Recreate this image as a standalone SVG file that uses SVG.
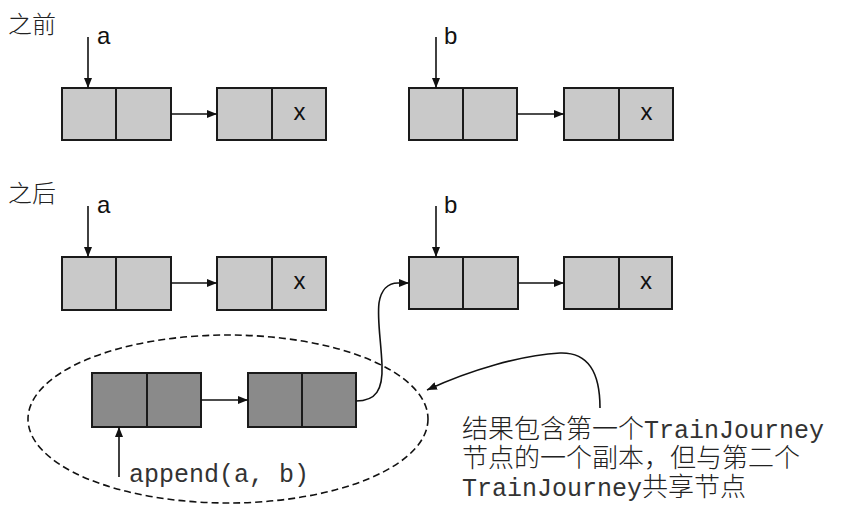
<svg xmlns="http://www.w3.org/2000/svg" width="844" height="510" viewBox="0 0 844 510">
<defs>
<marker id="ah" viewBox="0 0 10 8" refX="10" refY="4" markerWidth="10" markerHeight="8" markerUnits="userSpaceOnUse" orient="auto">
<path d="M0,0 L10,4 L0,8 Z" fill="#111"/>
</marker>
</defs>
<style>
.light{fill:#c9c9c9;stroke:#1a1a1a;stroke-width:2}
.dark{fill:#8a8a8a;stroke:#1a1a1a;stroke-width:2}
.div{stroke:#1a1a1a;stroke-width:2}
.conn{fill:none;stroke:#111;stroke-width:1.6}
.lbl{font-family:"Liberation Sans",Arial,sans-serif;font-size:24px;fill:#111}
.cjk{font-family:"Noto Sans CJK SC",sans-serif;font-size:24px;fill:#222;font-weight:300}
.note{font-family:"Liberation Mono","Noto Sans CJK SC",monospace;font-size:25px;fill:#333}
.notecjk{font-family:"Noto Sans CJK SC",sans-serif;font-weight:300;font-size:26px;fill:#222}
.ell{fill:none;stroke:#111;stroke-width:1.6;stroke-dasharray:7,4}
</style>
<text class="cjk" x="8" y="33">之前</text>
<text class="cjk" x="8" y="202">之后</text>
<g id="before-a1"><rect class="light" x="62" y="88" width="109" height="52"/><line class="div" x1="116" y1="88" x2="116" y2="140"/></g>
<g id="before-a2"><rect class="light" x="217" y="88" width="109" height="52"/><line class="div" x1="272" y1="88" x2="272" y2="140"/><text class="lbl" x="299.5" y="120" text-anchor="middle">x</text></g>
<g id="before-b1"><rect class="light" x="409" y="88" width="108" height="52"/><line class="div" x1="463" y1="88" x2="463" y2="140"/></g>
<g id="before-b2"><rect class="light" x="564" y="88" width="109" height="52"/><line class="div" x1="619" y1="88" x2="619" y2="140"/><text class="lbl" x="646.5" y="120" text-anchor="middle">x</text></g>
<g id="after-a1"><rect class="light" x="62" y="257" width="109" height="53"/><line class="div" x1="116" y1="257" x2="116" y2="310"/></g>
<g id="after-a2"><rect class="light" x="217" y="257" width="109" height="53"/><line class="div" x1="272" y1="257" x2="272" y2="310"/><text class="lbl" x="299.5" y="289" text-anchor="middle">x</text></g>
<g id="after-b1"><rect class="light" x="409" y="257" width="109" height="52"/><line class="div" x1="463" y1="257" x2="463" y2="309"/></g>
<g id="after-b2"><rect class="light" x="564" y="257" width="108" height="52"/><line class="div" x1="619" y1="257" x2="619" y2="309"/><text class="lbl" x="646" y="289" text-anchor="middle">x</text></g>
<g id="copy1"><rect class="dark" x="92" y="373" width="109" height="54"/><line class="div" x1="147" y1="373" x2="147" y2="427"/></g>
<g id="copy2"><rect class="dark" x="248" y="373" width="108" height="54"/><line class="div" x1="302" y1="373" x2="302" y2="427"/></g>
<g id="result-ellipse"><ellipse class="ell" cx="228" cy="419" rx="200" ry="84"/></g>
<g id="labels">
<text class="lbl" x="97" y="44">a</text>
<text class="lbl" x="444" y="44">b</text>
<text class="lbl" x="97" y="213">a</text>
<text class="lbl" x="444" y="213">b</text>
<text class="note" x="129" y="482">append(a, b)</text>
</g>
<g id="note">
<text class="note" x="462" y="438"><tspan class="notecjk">结果包含第一个</tspan>TrainJourney<tspan class="notecjk" x="462" y="467">节点的一个副本，但与第二个</tspan><tspan x="462" y="496">TrainJourney</tspan><tspan class="notecjk">共享节点</tspan></text>
</g>
<g id="connectors">
<line class="conn" x1="88" y1="37" x2="88" y2="88" marker-end="url(#ah)"/>
<line class="conn" x1="436" y1="37" x2="436" y2="88" marker-end="url(#ah)"/>
<line class="conn" x1="171" y1="114" x2="217" y2="114" marker-end="url(#ah)"/>
<line class="conn" x1="517" y1="114" x2="564" y2="114" marker-end="url(#ah)"/>
<line class="conn" x1="88" y1="206" x2="88" y2="257" marker-end="url(#ah)"/>
<line class="conn" x1="436" y1="206" x2="436" y2="257" marker-end="url(#ah)"/>
<line class="conn" x1="171" y1="283" x2="217" y2="283" marker-end="url(#ah)"/>
<line class="conn" x1="518" y1="283" x2="564" y2="283" marker-end="url(#ah)"/>
<line class="conn" x1="201" y1="400" x2="248" y2="400" marker-end="url(#ah)"/>
<line class="conn" x1="119" y1="477" x2="119" y2="427" marker-end="url(#ah)"/>
<path class="conn" d="M356,401 C376,401 383,390 382,365 C381,340 377,320 379,303 C381,290 388,283 398,283 L409,283" marker-end="url(#ah)"/>
<path class="conn" d="M600,408 C600,372 588,352 560,353 C522,355 470,370 427,390" marker-end="url(#ah)"/>
</g>
</svg>
